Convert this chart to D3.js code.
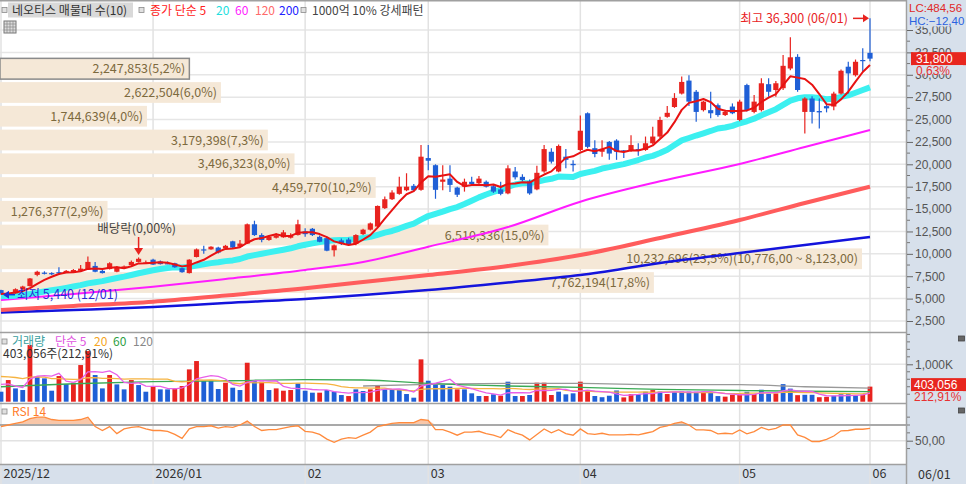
<!DOCTYPE html>
<html>
<head>
<meta charset="utf-8">
<script src="https://cdn.jsdelivr.net/npm/d3@7"></script>
<style>
  body { margin: 0; background: #fff; }
  svg { display: block; }
</style>
</head>
<body>
<svg class="canvas" width="966" height="484"></svg>
<script>
const monthIdx = [0, 21, 42, 59, 80, 102, 120];
const monthLabel = ['2025/12', '2026/01', '02', '03', '04', '05', '06'];

const open = [5950,5550,5600,6050,6400,7650,7900,7850,7950,7900,
  7950,8100,8250,8650,8100,8300,8000,8550,8750,9100,
  9000,9350,9150,8950,8950,8400,7850,9650,10500,10500,
  10700,10600,11400,10800,11150,13300,12100,11550,11800,11850,
  11800,12100,12500,12800,11900,11750,10400,11500,11600,11100,
  12200,12700,13050,15100,16100,16700,17100,17600,17150,20700,
  19900,18050,18400,17400,17500,18050,17900,18050,17550,17200,
  16750,19200,18600,18100,17200,19200,21400,19200,20850,20050,
  21600,25700,21800,21400,22500,22650,21550,21500,21700,21600,
  22350,23100,25300,26400,27900,29350,28100,26050,26050,26600,
  25500,26450,24950,28850,25850,26050,28950,28300,28500,30700,
  32000,25850,27350,25950,26500,26450,27900,30900,29950,31650,
  32450];
const high = [6000,5750,6150,6450,7300,8100,8050,7950,8500,8200,
  8300,8750,9700,9100,8200,9050,8650,8700,9250,9600,
  9250,9450,9250,9150,9000,8450,9400,10600,10900,10850,
  10800,11000,11450,11550,13400,13700,12300,12050,12300,12650,
  12300,13800,12850,12900,12050,11900,11050,11700,11800,12200,
  12800,13500,15400,16400,17100,18600,19000,17800,22150,22150,
  20000,19900,19900,17500,18400,18600,18700,18200,17700,18050,
  19900,19700,18900,18300,19850,22150,21800,22200,21700,20450,
  25450,25800,22700,22700,22600,22800,21600,23250,22350,23100,
  24200,25300,26500,27950,29800,29950,28300,27100,28100,26800,
  26100,26800,27200,29000,27750,29600,29600,29300,32200,34200,
  32300,27500,27600,27350,26900,28100,30600,31450,31700,32950,
  36300];
const low = [5440,5480,5550,6000,6350,7500,7700,7650,7650,7850,
  7900,8050,8200,7950,7800,8250,7950,8450,8700,9050,
  8900,8750,8800,8850,8450,7900,7800,9600,10000,10450,
  10050,10550,10650,10700,11100,12000,11300,11450,11700,11800,
  11700,12050,11900,12000,11300,10300,9700,11000,10900,10950,
  12100,12600,12950,15000,16000,16600,17000,17000,17050,19350,
  16150,17100,16900,16350,16950,17700,17800,17400,16800,16550,
  16650,18300,18100,16600,17100,19050,20100,19100,19550,19200,
  21450,21800,20800,20850,20500,20500,20700,21400,20950,21500,
  22250,22900,25200,26300,27800,26500,24750,25900,25150,25300,
  25400,25600,24800,25900,25700,25900,27550,27550,28300,30500,
  28100,23450,24550,24000,25800,26050,27800,27900,29800,30350,
  31500];
const close = [5600,5620,6050,6350,7250,8000,7820,7800,7850,8100,
  8200,8350,9100,8000,7850,8950,8550,8600,9100,9450,
  9050,8800,8850,8900,8500,7950,9350,10500,10400,10800,
  10150,10900,10700,11150,13300,12100,11550,11900,12050,12400,
  12100,13300,12200,12100,11350,10350,10950,11150,11100,12100,
  12700,13400,15350,16100,16850,17500,17500,17100,20850,20400,
  17150,18300,17700,16600,18050,17800,18400,17500,16950,16700,
  19550,18550,18250,16750,19050,21700,20300,22050,20500,19900,
  23750,21950,21150,21700,21200,21400,21400,22150,21550,22350,
  23100,24950,25750,27400,29200,27000,25850,27000,25700,25500,
  25850,25700,27000,26050,27000,29050,28100,29050,31000,31950,
  28300,27350,25850,25800,26250,27900,30450,30150,31450,31600,
  31800];
// late-November closes, estimated from where the 5/20 averages start
const novClose = [5050,5120,5000,4950,5080,5200,5150,5300,5250,5180,5100,5230,5350,5400,5280,5320,5450,5500,5650];

// volume in thousand shares, u = up bar, d = down bar
const volK = [267,579,356,312,1515,668,624,294,686,472,
  508,980,1354,713,356,713,463,330,579,445,
  267,419,330,330,356,419,864,1087,552,552,
  339,508,374,312,1042,552,535,312,356,294,
  312,490,294,241,241,312,267,178,151,330,
  285,330,419,330,330,312,205,107,1132,561,
  463,446,402,330,330,224,152,152,197,161,
  535,152,152,179,508,508,179,268,197,224,
  535,313,152,120,160,300,115,200,200,265,
  310,270,205,265,270,270,265,265,265,150,
  135,185,195,265,205,320,215,220,470,350,
  175,185,185,120,130,160,200,200,165,189,
  403];
const volDir = 'dudduddduduuuddudduddudduuuuddduddududuuudddudddudduuddddduddddudddududdud' +
  'uuuddduudddduuddududdddudduuududduddudduudddduuduu';
const novVolK = [820,650,900,760,580,700,1100,640,720,680,900,560,610,840,700,520,660,480,390];

// long averages at these sessions
const maIdx = [0, 10, 21, 31, 42, 50, 59, 70, 80, 91, 102, 111, 120];
const ma60 = [4845,5515,6331,7191,8196,9089,10798,12990,15823,18100,20034,21932,23831];
const ma120 = [3728,4175,4655,5348,6152,6855,7637,8642,9871,11769,13780,15678,17499];
const ma200 = [3449,3728,4064,4510,4957,5404,5962,6800,7637,8977,10094,10987,11881];
const vma60 = [400,480,535,560,590,580,490,420,384,330,300,280,270];
const vma120Idx = [50, 59, 70, 80, 91, 102, 111, 120];
const vma120 = [420,465,490,490,455,455,400,365];

const rsi = [68,70,72,74,78,80,80,77,76,76, 76,77,80,68,63,68,59,65,67,68,
  65,63,63,62,58,53,65,68,68,69, 66,68,67,70,75,68,63,64,64,66,
  68,69,62,61,58,52,48,52,54,53, 57,61,68,70,72,73,73,73,77,76,
  64,64,61,57,61,61,62,59,57,54, 64,60,57,51,58,65,60,64,59,57,
  65,59,58,59.5,57.5,57.4,57.4,58,57.4,59.5, 61.6,67,69,72,74,70,63.7,63.7,63,58.7,
  59.5,58.7,63.7,58.7,61.6,67,63.7,65.8,70,70, 57.4,54.3,49,49,51.8,56,62.6,63,64.6,64.6,
  65.8];

// volume profile, bottom bin first
const profileEdge = [5470,8123,10776,13429,16082,18735,21388,24041,26694,29347,32000];
const profileVol = [7762194,10232696,6510336,1276377,4459770,3496323,3179398,1744639,2622504,2247853];
const profilePct = [17.8,23.5,15.0,2.9,10.2,8.0,7.3,4.0,6.0,5.2];

const priceTicks = [2500,5000,7500,10000,12500,15000,17500,20000,22500,25000,27500,30000,32500,35000];
const volTicks = [1000];
const rsiTicks = [50];
const lastVol = 403056, volRatio = 212.91, changePct = 0.63, lc = 484.56, hc = -12.40;
const hiPrice = 36300, hiDate = '06/01', loPrice = 5440, loDate = '12/01';
const exDivIdx = 19;

const font = '"Noto Sans CJK KR", "Noto Sans", sans-serif';
const numFont = '"Liberation Sans", "DejaVu Sans", sans-serif';
const panelBg = '#d7e0eb';
const up = '#e8231f', down = '#1f5fd6';
const fmt = d3.format(',');
const dec = (v, n) => d3.format(`.${n}f`)(v).replace('.', ',');

const svg = d3.select('.canvas').attr('font-family', font);

const x = d3.scaleLinear().domain([0, close.length - 1]).range([1, 870]);
const yP = d3.scaleLinear().domain([2500, 35000]).range([321, 30]);
const yV = d3.scaleLinear().domain([0, 1000]).range([401.7, 364.3]);
const yR = d3.scaleLinear().domain([50, 70]).range([440.7, 425]);
const xPV = d3.scaleLinear().domain([0, d3.max(profileVol)]).range([0, 862]);

const sma = (vals, prior, n) => {
  const all = prior.concat(vals);
  return vals.map((v, i) => d3.mean(all.slice(prior.length + i - n + 1, prior.length + i + 1)));
};

// backgrounds and frames
svg.append('rect').attr('width', 966).attr('height', 484).attr('fill', '#fff');
svg.append('rect').attr('x', 907).attr('width', 59).attr('height', 484).attr('fill', panelBg);
svg.append('rect').attr('y', 465).attr('width', 907).attr('height', 19).attr('fill', panelBg);

const defs = svg.append('defs');
defs.append('clipPath').attr('id', 'clipP').append('rect').attr('width', 906).attr('height', 332);
defs.append('clipPath').attr('id', 'clipV').append('rect').attr('y', 333).attr('width', 906).attr('height', 69.5);
defs.append('clipPath').attr('id', 'clipR').append('rect').attr('y', 404).attr('width', 906).attr('height', 60);

const grid = svg.append('g');
grid.selectAll('.hg').data(priceTicks).enter().append('line')
    .attr('x1', 0).attr('x2', 906)
    .attr('y1', d => yP(d)).attr('y2', d => yP(d))
    .attr('stroke', '#e6e6e6').attr('stroke-width', 1.5);
grid.selectAll('.vg').data(monthIdx).enter().append('line')
    .attr('x1', d => x(d)).attr('x2', d => x(d))
    .attr('y1', 0).attr('y2', 484)
    .attr('stroke', '#e2e2e2').attr('stroke-width', 1.5);
grid.selectAll('.vgl').data(volTicks).enter().append('line')
    .attr('x1', 0).attr('x2', 906).attr('y1', d => yV(d)).attr('y2', d => yV(d))
    .attr('stroke', '#e6e6e6').attr('stroke-width', 1.5);
grid.append('line').attr('x1', 0).attr('x2', 906).attr('y1', yR(50)).attr('y2', yR(50))
    .attr('stroke', '#e2e2e2').attr('stroke-width', 1.5);

// price panel
const price = svg.append('g').attr('clip-path', 'url(#clipP)');

const curBin = d3.bisectRight(profileEdge, close[close.length - 1]) - 1;
const maxBin = profileVol.indexOf(d3.max(profileVol));
const bins = price.selectAll('.bin')
    .data(profileVol.map((v, k) => ({v, k, pct: profilePct[k]})))
    .enter().append('g');
bins.append('rect')
    .attr('x', 0)
    .attr('y', d => yP(profileEdge[d.k + 1]) + 1.5)
    .attr('width', d => xPV(d.v))
    .attr('height', d => yP(profileEdge[d.k]) - yP(profileEdge[d.k + 1]) - 3)
    .attr('fill', '#f5e8d7')
    .attr('stroke', d => d.k === curBin ? '#8a8a8a' : 'none')
    .attr('stroke-width', 1.5);
bins.append('text')
    .attr('x', d => xPV(d.v) - 4)
    .attr('y', d => (yP(profileEdge[d.k]) + yP(profileEdge[d.k + 1])) / 2 + 4.5)
    .attr('text-anchor', 'end')
    .attr('font-size', 12.5)
    .attr('fill', '#7d6a3e')
    .text(d => `${fmt(d.v)}(${dec(d.pct, 1)}%)` +
        (d.k === maxBin ? `(${fmt(profileEdge[d.k + 1])},00 ~ ${fmt(profileEdge[d.k])},00)` : ''));

const sparse = (idx, vals, scale) => d3.line()
    .x((d, i) => x(idx[i])).y(d => scale(d))
    .curve(d3.curveMonotoneX)(vals);
const dense = (vals, scale) => d3.line().x((d, i) => x(i)).y(d => scale(d))(vals);

price.append('path').attr('d', sparse(maIdx, ma200, yP))
    .attr('fill', 'none').attr('stroke', '#1414dc').attr('stroke-width', 2.5);
price.append('path').attr('d', sparse(maIdx, ma120, yP))
    .attr('fill', 'none').attr('stroke', '#ff5c5c').attr('stroke-width', 4);
price.append('path').attr('d', sparse(maIdx, ma60, yP))
    .attr('fill', 'none').attr('stroke', '#ff1cff').attr('stroke-width', 2);
price.append('path').attr('d', dense(sma(close, novClose, 20), yP))
    .attr('fill', 'none').attr('stroke', '#3cf0f0').attr('stroke-width', 6)
    .attr('stroke-linejoin', 'round');

const candles = price.selectAll('.candle')
    .data(close.map((c, i) => ({i, o: open[i], h: high[i], l: low[i], c})))
    .enter().append('g')
    .attr('class', 'candle');
candles.append('line')
    .attr('x1', d => x(d.i)).attr('x2', d => x(d.i))
    .attr('y1', d => yP(d.h)).attr('y2', d => yP(d.l))
    .attr('stroke', d => d.c >= d.o ? up : down).attr('stroke-width', 1.2);
candles.append('rect')
    .attr('x', d => x(d.i) - 2.6)
    .attr('y', d => yP(Math.max(d.o, d.c)))
    .attr('width', 5.2)
    .attr('height', d => Math.max(1.2, Math.abs(yP(d.o) - yP(d.c))))
    .attr('fill', d => d.c >= d.o ? up : down);

price.append('path').attr('d', dense(sma(close, novClose, 5), yP))
    .attr('fill', 'none').attr('stroke', '#e81212').attr('stroke-width', 2)
    .attr('stroke-linejoin', 'round');

// annotations
const arrowHead = (g, px, py, dir, color) => {
  const pts = {
    left: [[px, py], [px + 6, py - 4], [px + 6, py + 4]],
    right: [[px, py], [px - 6, py - 4], [px - 6, py + 4]],
    down: [[px, py], [px - 4.5, py - 7], [px + 4.5, py - 7]]
  }[dir];
  g.append('polygon').attr('points', pts.map(p => p.join(',')).join(' ')).attr('fill', color);
};
const ann = svg.append('g');
const hiY = yP(hiPrice), hiX = x(close.length - 1);
ann.append('text').attr('x', hiX - 22).attr('y', hiY + 4.5).attr('text-anchor', 'end')
    .attr('font-size', 12.5).attr('fill', '#e8231f').text(`최고 ${fmt(hiPrice)} (${hiDate})`);
ann.append('line').attr('x1', hiX - 17).attr('x2', hiX - 6).attr('y1', hiY).attr('y2', hiY)
    .attr('stroke', '#e8231f').attr('stroke-width', 1.5);
arrowHead(ann, hiX - 1, hiY, 'right', '#e8231f');

const loY = yP(loPrice);
ann.append('line').attr('x1', 15).attr('x2', 8).attr('y1', loY).attr('y2', loY)
    .attr('stroke', '#1f2fd6').attr('stroke-width', 1.5);
arrowHead(ann, 3, loY, 'left', '#1f2fd6');
ann.append('text').attr('x', 17).attr('y', loY + 4.5)
    .attr('font-size', 12.5).attr('fill', '#2a2ad8').text(`최저 ${fmt(loPrice)} (${loDate})`);

const exX = x(exDivIdx);
ann.append('text').attr('x', exX - 2).attr('y', 233).attr('text-anchor', 'middle')
    .attr('font-size', 12.5).attr('fill', '#444').text(`배당락(${dec(0, 2)}%)`);
ann.append('line').attr('x1', exX).attr('x2', exX).attr('y1', 237).attr('y2', 248)
    .attr('stroke', '#e8231f').attr('stroke-width', 1.5);
arrowHead(ann, exX, 255, 'down', '#e8231f');

// volume panel
const vol = svg.append('g').attr('clip-path', 'url(#clipV)');
vol.selectAll('.vbar').data(volK).enter().append('rect')
    .attr('x', (d, i) => x(i) - 2.4)
    .attr('y', d => yV(d))
    .attr('width', 4.8)
    .attr('height', d => yV(0) - yV(d))
    .attr('fill', (d, i) => volDir[i] === 'u' ? up : down);
vol.append('path').attr('d', sparse(vma120Idx, vma120, yV))
    .attr('fill', 'none').attr('stroke', '#999').attr('stroke-width', 1.3);
vol.append('path').attr('d', sparse(maIdx, vma60, yV))
    .attr('fill', 'none').attr('stroke', '#3aaa55').attr('stroke-width', 1.3);
vol.append('path').attr('d', dense(sma(volK, novVolK, 20), yV))
    .attr('fill', 'none').attr('stroke', '#f6b340').attr('stroke-width', 1.3);
vol.append('path').attr('d', dense(sma(volK, novVolK, 5), yV))
    .attr('fill', 'none').attr('stroke', '#e860e8').attr('stroke-width', 1.3);

// rsi panel
const rs = svg.append('g').attr('clip-path', 'url(#clipR)');
rs.append('path')
    .attr('d', d3.area().x((d, i) => x(i)).y0(yR(70)).y1(d => yR(Math.max(d, 70)))(rsi))
    .attr('fill', '#f6b48c').attr('opacity', 0.75);
rs.append('line').attr('x1', 0).attr('x2', 906).attr('y1', yR(70)).attr('y2', yR(70))
    .attr('stroke', '#a9a9a9').attr('stroke-width', 2);
rs.append('path').attr('d', dense(rsi, yR))
    .attr('fill', 'none').attr('stroke', '#ff8a3c').attr('stroke-width', 1.3);

// panel borders
const frame = svg.append('g').attr('stroke', '#a0a0a0').attr('stroke-width', 1.5);
[0.75, 332.5, 403.5, 464.5].forEach(yy =>
  frame.append('line').attr('x1', 0).attr('x2', 907).attr('y1', yy).attr('y2', yy));
frame.append('line').attr('x1', 906.5).attr('x2', 906.5).attr('y1', 0).attr('y2', 484);

// right axes
const styleAxis = g => {
  g.select('.domain').remove();
  g.attr('font-family', numFont).attr('font-size', 12);
  g.selectAll('.tick line').attr('stroke', '#666');
  g.selectAll('.tick text').attr('fill', '#555');
};
const minor = (g, scale, vals) => g.selectAll('.mt').data(vals).enter().append('line')
    .attr('x1', 0).attr('x2', 3).attr('y1', d => scale(d)).attr('y2', d => scale(d))
    .attr('stroke', '#777');

const axP = svg.append('g').attr('transform', 'translate(907,0)')
    .call(d3.axisRight(yP).tickValues(priceTicks).tickFormat(fmt).tickSize(6).tickPadding(2))
    .call(styleAxis);
minor(axP, yP, priceTicks.map(d => d + 1250).filter(d => d < 36000));

const axV = svg.append('g').attr('transform', 'translate(907,0)')
    .call(d3.axisRight(yV).tickValues(volTicks).tickFormat(d => fmt(d) + 'K').tickSize(6).tickPadding(2))
    .call(styleAxis);
minor(axV, yV, [200, 400, 600, 800, 1200, 1400, 1600, 1800]);

const axR = svg.append('g').attr('transform', 'translate(907,0)')
    .call(d3.axisRight(yR).tickValues(rsiTicks).tickFormat(d => dec(d, 2)).tickSize(6).tickPadding(2))
    .call(styleAxis);
minor(axR, yR, [40, 60, 70, 80]);

// right axis badges
const side = svg.append('g').attr('font-size', 12).attr('font-family', numFont);
side.append('rect').attr('x', 907.75).attr('y', 0).attr('width', 58).attr('height', 26.5).attr('fill', panelBg);
side.append('text').attr('x', 909).attr('y', 12).attr('font-size', 11.5).attr('fill', '#e02828').text(`LC:${dec(lc, 2)}`);
side.append('text').attr('x', 909).attr('y', 25).attr('font-size', 11.5).attr('fill', '#2a62e0').text(`HC:${dec(hc, 2)}`);

const lastY = yP(close[close.length - 1]);
side.append('rect').attr('x', 911).attr('y', lastY - 6.5).attr('width', 55).attr('height', 13).attr('fill', '#e8261e');
side.append('text').attr('x', 916).attr('y', lastY + 4.5).attr('fill', '#fff').text(fmt(close[close.length - 1]));
side.append('rect').attr('x', 913).attr('y', lastY + 6.5).attr('width', 50).attr('height', 9).attr('fill', panelBg);
side.append('text').attr('x', 916).attr('y', lastY + 16).attr('fill', '#e83030').text(`${dec(changePct, 2)}%`);

const vY = yV(lastVol / 1000) - 2;
side.append('rect').attr('x', 911).attr('y', vY - 6.5).attr('width', 55).attr('height', 13).attr('fill', '#e8261e');
side.append('text').attr('x', 914).attr('y', vY + 4.5).attr('fill', '#fff').text(fmt(lastVol));
side.append('rect').attr('x', 913).attr('y', vY + 6.5).attr('width', 50).attr('height', 9).attr('fill', panelBg);
side.append('text').attr('x', 914).attr('y', vY + 16).attr('fill', '#e83030').text(`${dec(volRatio, 2)}%`);

[336, 408].forEach(iy => {
  side.append('rect').attr('x', 958.5).attr('y', iy).attr('width', 6).attr('height', 5)
      .attr('fill', '#666').attr('stroke', '#444').attr('stroke-width', 0.8);
});

// x axis
svg.append('g').attr('transform', 'translate(0,465)')
    .call(d3.axisBottom(x).tickValues(monthIdx).tickFormat((d, i) => monthLabel[i]).tickSize(0).tickPadding(4))
    .call(g => g.select('.domain').remove())
    .call(g => g.selectAll('text').attr('text-anchor', 'start').attr('dx', 2)
        .attr('font-family', font).attr('font-size', 12.5).attr('fill', '#333'));
svg.append('text').attr('x', 918).attr('y', 479).attr('font-size', 12.5).attr('fill', '#333')
    .text(`${monthLabel[monthLabel.length - 1]}/${hiDate.slice(3)}`);

// legends
const legend = (items, y) => {
  const g = svg.append('g').attr('font-size', 12);
  items.forEach(it => {
    if (it.icon) {
      g.append('rect').attr('x', it.x).attr('y', y - 7).attr('width', 5).attr('height', 5)
          .attr('fill', '#e0e0e0').attr('stroke', '#8a8a8a').attr('stroke-width', 0.8);
    } else {
      g.append('text').attr('x', it.x).attr('y', y).attr('fill', it.c).text(it.t);
    }
  });
  return g;
};
svg.append('rect').attr('x', 8).attr('y', 2.5).attr('width', 125).attr('height', 15).attr('fill', '#d9d9d9');
legend([
  {icon: true, x: 2},
  {x: 12, t: '네오티스 매물대 수(10)', c: '#333'},
  {icon: true, x: 139},
  {x: 150, t: '종가 단순 5', c: '#ff2020'},
  {x: 216, t: '20', c: '#22dede'},
  {x: 235, t: '60', c: '#ff22ff'},
  {x: 255, t: '120', c: '#ff6a6a'},
  {x: 279, t: '200', c: '#2222ff'},
  {icon: true, x: 301},
  {x: 312, t: '1000억 10% 강세패턴', c: '#444'}
], 14.5);
const tbl = svg.append('g').attr('transform', 'translate(4,21)');
tbl.append('rect').attr('width', 12).attr('height', 12).attr('fill', '#ddd').attr('stroke', '#777');
[3, 6, 9].forEach(t => {
  tbl.append('line').attr('x1', 0).attr('x2', 12).attr('y1', t).attr('y2', t).attr('stroke', '#888').attr('stroke-width', 0.7);
  tbl.append('line').attr('x1', t).attr('x2', t).attr('y1', 0).attr('y2', 12).attr('stroke', '#888').attr('stroke-width', 0.7);
});

legend([
  {icon: true, x: 2},
  {x: 12, t: '거래량', c: '#3a9fa0'},
  {x: 55, t: '단순 5', c: '#e055e0'},
  {x: 94, t: '20', c: '#f5a623'},
  {x: 113, t: '60', c: '#2ea043'},
  {x: 133, t: '120', c: '#888'}
], 346);
legend([{x: 3, t: `${fmt(lastVol)}주(${dec(volRatio, 2)}%)`, c: '#333'}], 358);
legend([
  {icon: true, x: 2},
  {x: 12, t: 'RSI 14', c: '#ff7b2a'}
], 416);
</script>
</body>
</html>
